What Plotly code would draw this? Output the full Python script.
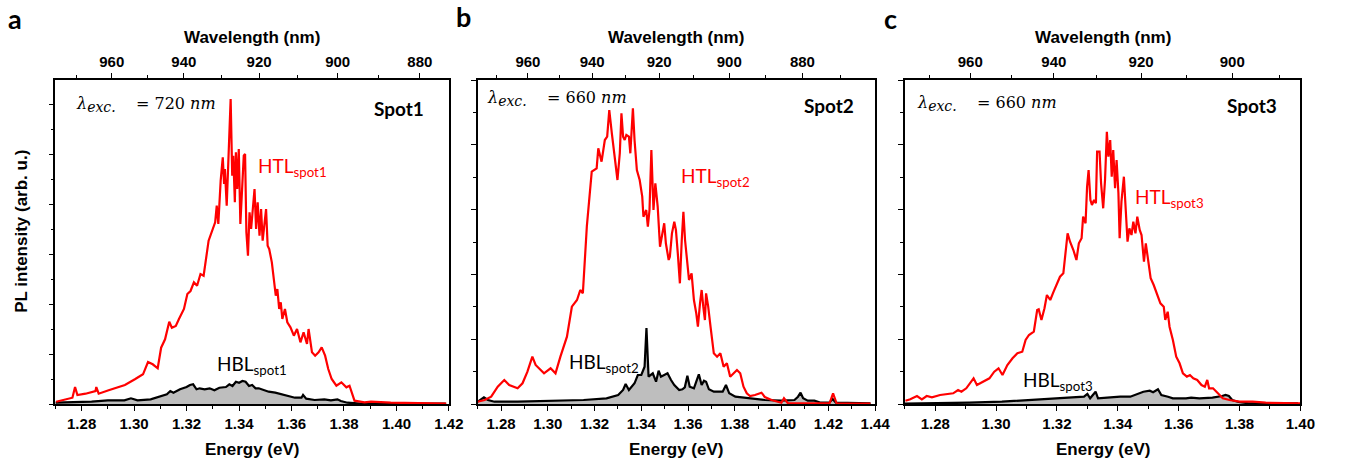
import plotly.graph_objects as go

# ---------------- data (energy in eV, PL intensity in arb. u.) ----------------
a_htl_E = [1.2703, 1.2765, 1.2775, 1.2784, 1.2815, 1.2853, 1.2856, 1.2865, 1.2903, 1.2928,
           1.2965, 1.3003, 1.3034, 1.3053, 1.3071, 1.3090, 1.3103, 1.3118, 1.3134, 1.3144,
           1.3159, 1.3171, 1.3190, 1.3203, 1.3215, 1.3228, 1.3240, 1.3253, 1.3265, 1.3284,
           1.3296, 1.3309, 1.3315, 1.3321, 1.3330, 1.3338, 1.3343, 1.3346, 1.3353, 1.3360,
           1.3368, 1.3374, 1.3378, 1.3384, 1.3388, 1.3393, 1.3399, 1.3405, 1.3411, 1.3418,
           1.3423, 1.3428, 1.3434, 1.3440, 1.3446, 1.3453, 1.3459, 1.3465, 1.3471, 1.3478,
           1.3484, 1.3490, 1.3496, 1.3503, 1.3509, 1.3515, 1.3525, 1.3534, 1.3540, 1.3546,
           1.3553, 1.3559, 1.3565, 1.3575, 1.3584, 1.3596, 1.3609, 1.3621, 1.3634, 1.3646,
           1.3659, 1.3665, 1.3678, 1.3690, 1.3703, 1.3715, 1.3728, 1.3740, 1.3753, 1.3771,
           1.3790, 1.3809, 1.3821, 1.3840, 1.3878, 1.3903, 1.3978, 1.4190]
a_htl_I = [2.3, 6.3, 17, 9, 10.3, 13, 17, 10.3, 13.7, 15.7,
           19, 24.7, 29.7, 42, 39.7, 35.7, 56.3, 64.7, 82.3, 76.3,
           78, 85, 95, 110, 113, 121.7, 118.3, 130, 128.3, 163.3,
           171.7, 181.7, 198.3, 180, 223.3, 246.7, 220, 235, 198.3, 241.7,
           305, 228.3, 248.3, 201.7, 251.7, 215, 255, 180, 215, 248.3,
           250, 171.7, 148.3, 191.7, 175, 201.7, 215, 175, 201.7, 168.3,
           195, 163.3, 181.7, 195, 158.3, 155, 141.7, 121.7, 108.3, 115,
           95, 101.7, 85, 95, 81.7, 76.7, 68.3, 75, 61.7, 71.7,
           60, 75, 51.7, 48.3, 51.7, 56.7, 48.3, 35, 25, 18.3,
           21.7, 16.7, 18.3, 3.3, 1.7, 2.3, 1.3, 0.3]

a_hbl_E = [1.2700, 1.2775, 1.2838, 1.2900, 1.2963, 1.2988, 1.3013, 1.3063, 1.3100, 1.3125,
           1.3138, 1.3150, 1.3175, 1.3200, 1.3213, 1.3225, 1.3238, 1.3250, 1.3269, 1.3288,
           1.3306, 1.3325, 1.3350, 1.3363, 1.3375, 1.3388, 1.3400, 1.3413, 1.3425, 1.3438,
           1.3450, 1.3463, 1.3475, 1.3494, 1.3513, 1.3538, 1.3563, 1.3588, 1.3613, 1.3638,
           1.3644, 1.3656, 1.3688, 1.3725, 1.3750, 1.3775, 1.3788, 1.3813, 1.3863, 1.4188]
a_hbl_I = [1.3, 2, 2.3, 3.7, 3.7, 5.7, 3.7, 4.7, 8, 9.7,
           13, 11.3, 14.7, 17, 19, 19.7, 14.7, 15.7, 14.7, 15.7,
           13.7, 16.3, 17, 19.7, 18, 22.3, 21.3, 23, 22.3, 18,
           19, 15.7, 15.7, 13.7, 12.3, 11.3, 9.7, 8, 6.3, 6.3,
           9, 5.3, 4, 4.7, 3.7, 4.7, 3, 1.3, 0.3, 0.3]

b_htl_E = [1.2700, 1.2730, 1.2758, 1.2786, 1.2814, 1.2835, 1.2871, 1.2892, 1.2913, 1.2934,
           1.2948, 1.2984, 1.3012, 1.3033, 1.3054, 1.3082, 1.3103, 1.3125, 1.3139, 1.3150,
           1.3167, 1.3188, 1.3209, 1.3216, 1.3230, 1.3244, 1.3254, 1.3263, 1.3274, 1.3287,
           1.3298, 1.3308, 1.3315, 1.3322, 1.3329, 1.3336, 1.3347, 1.3353, 1.3364, 1.3371,
           1.3381, 1.3393, 1.3404, 1.3409, 1.3421, 1.3428, 1.3435, 1.3443, 1.3452, 1.3460,
           1.3470, 1.3480, 1.3488, 1.3498, 1.3505, 1.3517, 1.3522, 1.3531, 1.3541, 1.3548,
           1.3556, 1.3565, 1.3573, 1.3580, 1.3587, 1.3597, 1.3604, 1.3615, 1.3625, 1.3635,
           1.3642, 1.3651, 1.3658, 1.3665, 1.3672, 1.3677, 1.3686, 1.3696, 1.3710, 1.3724,
           1.3738, 1.3752, 1.3766, 1.3780, 1.3795, 1.3809, 1.3823, 1.3837, 1.3851, 1.3865,
           1.3886, 1.3914, 1.3928, 1.3957, 1.3999, 1.4010, 1.4027, 1.4126, 1.4205, 1.4220,
           1.4235, 1.4380]
b_htl_I = [2.3, 4, 7.3, 17.3, 24, 19, 15.7, 20.7, 32.3, 47.3,
           39, 30.7, 35.7, 30.7, 47.3, 67.3, 97.3, 104, 114, 110.7,
           177.3, 232.3, 235.7, 255.7, 242.3, 264, 267.3, 294, 270.7, 247.3,
           224, 250.7, 290.7, 267.3, 264, 269, 267.3, 250.7, 295.7, 264,
           234, 224, 207.3, 187.3, 194, 177.3, 194, 254, 194, 220.7,
           197.3, 157.3, 167.3, 180.7, 160.7, 144, 147.3, 170.7, 182.3, 174,
           150.7, 120.7, 164, 192.3, 164, 137.3, 124, 130.7, 104, 90.7,
           77.3, 100.7, 114, 97.3, 84, 110.7, 97.3, 77.3, 50.7, 47.3,
           50.7, 37.3, 40.7, 27.3, 30.7, 34, 30.7, 17.3, 10.7, 8,
           9, 11.3, 7, 4, 1.3, 5.7, 0.7, 0.7, 0.7, 10.7,
           0.7, 0.3]

b_hbl_E = [1.2701, 1.2727, 1.2744, 1.2772, 1.2871, 1.3012, 1.3153, 1.3251, 1.3301, 1.3322,
           1.3333, 1.3347, 1.3371, 1.3385, 1.3400, 1.3414, 1.3422, 1.3431, 1.3449, 1.3463,
           1.3474, 1.3484, 1.3498, 1.3512, 1.3527, 1.3541, 1.3562, 1.3576, 1.3586, 1.3597,
           1.3607, 1.3625, 1.3635, 1.3646, 1.3658, 1.3668, 1.3677, 1.3689, 1.3710, 1.3731,
           1.3748, 1.3762, 1.3776, 1.3802, 1.3858, 1.3929, 1.3999, 1.4055, 1.4070, 1.4081,
           1.4092, 1.4112, 1.4140, 1.4168, 1.4204, 1.4218, 1.4232, 1.4295, 1.4380]
b_hbl_I = [2.3, 6.7, 4, 2.3, 2.3, 3, 4, 5.7, 9, 14,
           20, 14, 20.7, 29, 29, 37.3, 76, 27.3, 30.7, 22.3,
           33.3, 27.3, 29, 30.7, 24, 19, 14, 14.7, 16.7, 28.3,
           17.3, 15.7, 22.3, 29.7, 19, 23.3, 22.3, 14.7, 12.3, 12.3,
           12.3, 19, 10.7, 7.3, 5.7, 4, 3.3, 4, 7.3, 11.3,
           5.7, 3.3, 3.3, 1.3, 1.3, 5, 1.3, 1.3, 0.7]

c_htl_E = [1.2702, 1.2718, 1.2740, 1.2756, 1.2772, 1.2789, 1.2816, 1.2843, 1.2859, 1.2875,
           1.2886, 1.2902, 1.2918, 1.2926, 1.2937, 1.2956, 1.2978, 1.2994, 1.3008, 1.3021,
           1.3037, 1.3054, 1.3070, 1.3086, 1.3097, 1.3108, 1.3124, 1.3135, 1.3140, 1.3149,
           1.3159, 1.3167, 1.3178, 1.3189, 1.3199, 1.3210, 1.3221, 1.3227, 1.3235, 1.3243,
           1.3254, 1.3264, 1.3272, 1.3281, 1.3286, 1.3294, 1.3299, 1.3304, 1.3310, 1.3315,
           1.3322, 1.3328, 1.3332, 1.3340, 1.3345, 1.3352, 1.3358, 1.3364, 1.3369, 1.3375,
           1.3380, 1.3385, 1.3391, 1.3396, 1.3402, 1.3406, 1.3412, 1.3420, 1.3425, 1.3432,
           1.3438, 1.3445, 1.3451, 1.3458, 1.3464, 1.3472, 1.3478, 1.3486, 1.3492, 1.3499,
           1.3508, 1.3518, 1.3529, 1.3540, 1.3551, 1.3556, 1.3564, 1.3570, 1.3581, 1.3592,
           1.3603, 1.3614, 1.3627, 1.3637, 1.3648, 1.3661, 1.3675, 1.3686, 1.3694, 1.3700,
           1.3713, 1.3724, 1.3735, 1.3745, 1.3767, 1.3800, 1.3843, 1.3886, 1.3999]
c_htl_I = [3.3, 4.7, 8, 4.7, 8, 6.7, 9, 10, 10.7, 14,
           12.3, 15.7, 22.3, 25.7, 19, 22.3, 25.7, 32.3, 35.7, 29,
           39, 45.7, 50.7, 52.3, 64, 69, 72.3, 94, 94.7, 84,
           95.7, 109, 104, 112.3, 119, 127.3, 130.7, 150.7, 170.7, 162.3,
           154, 144, 160.7, 165.7, 187.3, 180.7, 217.3, 234, 204, 199,
           204, 200.7, 252.3, 252.3, 220.7, 195.7, 224, 272.3, 247.3, 264,
           227.3, 254, 215.7, 244, 210.7, 165.7, 202.3, 227.3, 200.7, 162.3,
           175.7, 169, 182.3, 170.7, 187.3, 174, 169, 142.3, 160.7, 145.7,
           125.7, 119, 109, 100.7, 97.3, 84, 92.3, 77.3, 64, 47.3,
           40.7, 30.7, 27.3, 29, 25.7, 24, 19, 17.3, 24, 15.7,
           15.7, 12.3, 8, 5.7, 4, 2.3, 2.3, 1.3, 0.7]

c_hbl_E = [1.2700, 1.2803, 1.2911, 1.3019, 1.3127, 1.3235, 1.3289, 1.3300, 1.3309, 1.3327,
           1.3335, 1.3365, 1.3408, 1.3441, 1.3462, 1.3484, 1.3505, 1.3516, 1.3532, 1.3543,
           1.3565, 1.3581, 1.3624, 1.3641, 1.3668, 1.3711, 1.3743, 1.3754, 1.3765, 1.3776,
           1.3797, 1.3830, 1.3992]
c_hbl_I = [0.3, 0.7, 1.3, 2.3, 4, 5.7, 7.3, 10, 5.7, 12.3,
           5.7, 6.3, 7.3, 7.3, 10, 12.3, 13.3, 11.7, 14.7, 9,
           7.3, 5.7, 5.7, 6.3, 5.7, 6.3, 8, 9, 8, 4,
           2, 0.7, 0.7]

energy_ranges = [[1.27, 1.42], [1.27, 1.44], [1.27, 1.40]]
wl_major = [980, 960, 940, 920, 900, 880, 860]
wl_minor = [990, 970, 950, 930, 910, 890, 870]
panel_letters = ["a", "b", "c"]
spot_labels = ["Spot1", "Spot2", "Spot3"]
exc_wavelengths = ["720", "660", "660"]
htl_labels = ["HTL<sub>spot1</sub>", "HTL<sub>spot2</sub>", "HTL<sub>spot3</sub>"]
hbl_labels = ["HBL<sub>spot1</sub>", "HBL<sub>spot2</sub>", "HBL<sub>spot3</sub>"]
HC = 1239.84  # eV*nm

series = [(a_htl_E, a_htl_I, a_hbl_E, a_hbl_I),
          (b_htl_E, b_htl_I, b_hbl_E, b_hbl_I),
          (c_htl_E, c_htl_I, c_hbl_E, c_hbl_I)]

# ---------------- layout geometry (pixels) ----------------
W, H = 1348, 466
px = lambda p: p / W
py = lambda p: 1 - p / H
x_doms = [(56, 454), (483, 885), (915, 1315)]
y_top, y_bot = 80, 404
y_dticks = [50, 64.8, 64.8]
y_range = [0, 324]

SANS = "Liberation Sans, Arial"
TICKFONT = dict(family=SANS, size=15, color="black", weight="bold")
TITLEFONT = dict(family=SANS, size=17, color="black", weight="bold")
LINE = dict(showline=True, linecolor="black", linewidth=1.5, showgrid=False, zeroline=False)
TK = dict(ticks="outside", tickwidth=1.3, tickcolor="black")

fig = go.Figure()
layout = dict(width=W, height=H, autosize=False, margin=dict(l=0, r=0, t=0, b=0),
              paper_bgcolor="white", plot_bgcolor="white", showlegend=False)
annotations = []

for i in range(3):
    s = "" if i == 0 else str(i + 1)
    st = str(i + 4)
    hE, hI, bE, bI = series[i]
    # HBL on the energy (bottom) axis, HTL on the overlaid wavelength (top) axis -> same scale
    fig.add_trace(go.Scatter(x=bE, y=bI, mode="lines", xaxis="x" + s, yaxis="y" + s,
                             line=dict(color="black", width=2.2), fill="tozeroy",
                             fillcolor="#BEBEBE"))
    fig.add_trace(go.Scatter(x=hE, y=hI, mode="lines", xaxis="x" + st, yaxis="y" + s,
                             line=dict(color="#FF0000", width=2.2)))
    rng = energy_ranges[i]
    d0, d1 = x_doms[i]
    layout["xaxis" + s] = dict(domain=[px(d0), px(d1)], range=rng, anchor="y" + s,
                               tickmode="linear", tick0=1.28, dtick=0.02, tickformat=".2f",
                               ticklen=5, **TK,
                               minor=dict(dtick=0.01, tick0=1.27, ticklen=3, **TK),
                               tickfont=TICKFONT, mirror=False, **LINE)
    layout["yaxis" + s] = dict(domain=[py(y_bot), py(y_top)], range=y_range, anchor="x" + s,
                               tickmode="linear", tick0=0, dtick=y_dticks[i], ticklen=5, **TK,
                               minor=dict(dtick=y_dticks[i] / 2, tick0=0, ticklen=3, **TK),
                               showticklabels=False, mirror=True, **LINE)
    maj = [w for w in wl_major if rng[0] <= HC / w <= rng[1]]
    mnr = [w for w in wl_minor if rng[0] <= HC / w <= rng[1]]
    layout["xaxis" + st] = dict(overlaying="x" + s, side="top", anchor="y" + s, range=rng,
                                tickmode="array", tickvals=[HC / w for w in maj],
                                ticktext=[str(w) for w in maj], ticklen=5, **TK,
                                minor=dict(tickmode="array", tickvals=[HC / w for w in mnr],
                                           ticklen=3, **TK),
                                tickfont=TICKFONT, **LINE)
    cx = (d0 + d1) / 2
    annotations.append(dict(x=px(cx), y=py(38), text="Wavelength (nm)", font=TITLEFONT))
    annotations.append(dict(x=px(cx), y=py(449), text="Energy (eV)", font=TITLEFONT))

# y-axis title
annotations.append(dict(x=px(21), y=py(231), text="PL intensity (arb. u.)", textangle=-90,
                        font=TITLEFONT))

# panel letters
for lt, (lx, ly) in zip(panel_letters, [(15, 18), (469, 17), (901, 18)]):
    annotations.append(dict(x=px(lx), y=py(ly), text=lt,
                            font=dict(family="Lato", size=27, weight="bold", color="black")))

# in-panel labels
lam_pos = [(75, 104), (490, 99), (925, 103)]
spot_pos = [(431, 108), (866, 106), (1293, 105)]
htl_pos = [(259, 167), (687, 177), (1146, 198)]
hbl_pos = [(217, 365), (573, 363), (1032, 381)]
for i in range(3):
    lx, ly = lam_pos[i]
    annotations.append(dict(x=px(lx), y=py(ly), xanchor="left",
                            text="<i>λ</i><sub><i><span style='font-size:14px'>exc.</span></i></sub>"
                                 + "&nbsp;" * 4 + "= " + exc_wavelengths[i] + " <i>nm</i>",
                            font=dict(family="DejaVu Serif", size=16, color="black")))
    sx, sy = spot_pos[i]
    annotations.append(dict(x=px(sx), y=py(sy), xanchor="right", text=spot_labels[i],
                            font=dict(family="Lato", size=19, weight="bold", color="black")))
    hx, hy = htl_pos[i]
    annotations.append(dict(x=px(hx), y=py(hy), xanchor="left", text=htl_labels[i],
                            font=dict(family="Lato", size=19, color="#FF0000")))
    bx, by = hbl_pos[i]
    annotations.append(dict(x=px(bx), y=py(by), xanchor="left", text=hbl_labels[i],
                            font=dict(family="Lato", size=19, color="black")))

for a in annotations:
    a.setdefault("xref", "paper")
    a.setdefault("yref", "paper")
    a.setdefault("xanchor", "center")
    a.setdefault("yanchor", "middle")
    a.setdefault("showarrow", False)
layout["annotations"] = annotations
fig.update_layout(**layout)
fig.write_html("out.html")
